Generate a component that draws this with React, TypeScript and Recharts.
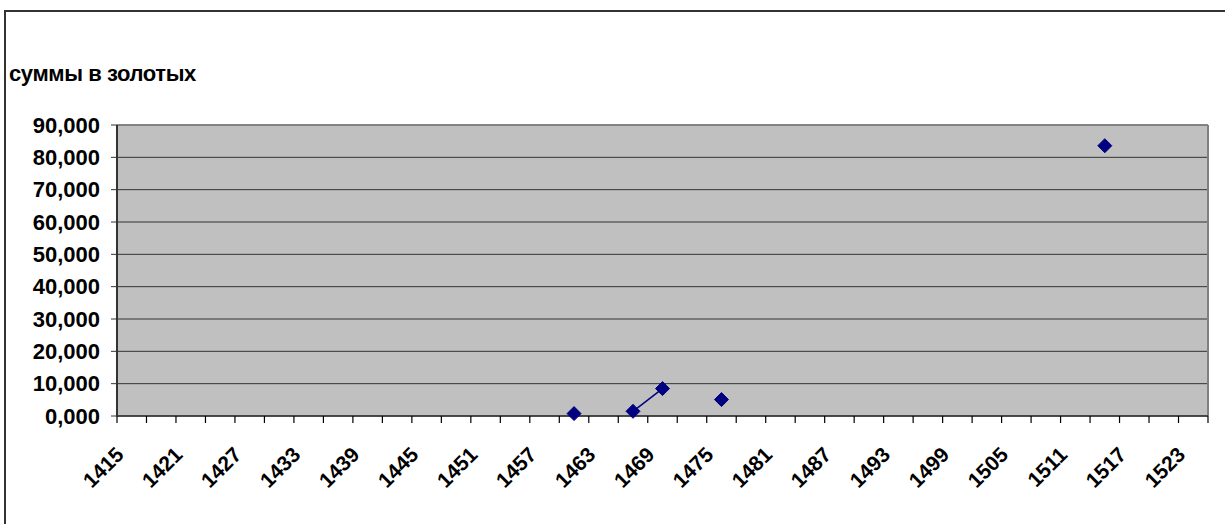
import React from 'react';
import { ComposedChart, Line, XAxis, YAxis, CartesianGrid, ReferenceLine } from 'recharts';

// годы с известными суммами
const years = [1461, 1467, 1470, 1476, 1515];
// суммы в золотых (тыс.)
const sums = [0.74, 1.45, 8.48, 5.08, 83.6];
// пары лет, соединённые линией
const linkedYears = [1467, 1470];

const yTicks = [0, 10, 20, 30, 40, 50, 60, 70, 80, 90];
const xLabels = [
  1415, 1421, 1427, 1433, 1439, 1445, 1451, 1457, 1463, 1469,
  1475, 1481, 1487, 1493, 1499, 1505, 1511, 1517, 1523,
];
const firstYear = 1415;
const lastYear = 1525;

const points = years.map((year, i) => ({ year, value: sums[i] }));
const segment = points.filter((p) => linkedYears.includes(p.year));

// деления оси X каждые 3 категории, на границах
const tickMarks: number[] = [];
for (let v = firstYear - 0.5; v <= lastYear + 0.5; v += 3) tickMarks.push(v);
const xTicks = [...tickMarks, ...xLabels].sort((a, b) => a - b);

const font = 'Arial, "Liberation Sans", sans-serif';

const XTick = ({ x, y, payload }: any) => {
  const v = payload.value;
  if (!Number.isInteger(v)) {
    return <line x1={x} x2={x} y1={y} y2={y + 7} stroke="#000" strokeWidth={1.2} />;
  }
  const tx = x + 3;
  const ty = y + 40;
  return (
    <text
      x={tx}
      y={ty}
      transform={`rotate(-45, ${tx}, ${ty})`}
      textAnchor="end"
      fontFamily={font}
      fontWeight="bold"
      fontSize={21}
      fill="#000"
    >
      {v}
    </text>
  );
};

const Diamond = ({ cx, cy }: any) => {
  if (cx == null || cy == null) return null;
  const r = 7;
  return (
    <polygon
      points={`${cx},${cy - r} ${cx + r},${cy} ${cx},${cy + r} ${cx - r},${cy}`}
      fill="#000080"
      stroke="#000080"
    />
  );
};

export default function App() {
  return (
    <div style={{ position: 'absolute', left: 0, top: 0, width: 1225, height: 524, background: '#fff', overflow: 'hidden' }}>
      <div
        style={{
          position: 'absolute',
          left: 4,
          top: 10,
          width: 1240,
          height: 540,
          borderLeft: '2px solid #333',
          borderTop: '2px solid #333',
        }}
      />
      <div
        style={{
          position: 'absolute',
          left: 9,
          top: 63,
          fontFamily: font,
          fontWeight: 'bold',
          fontSize: 22,
          lineHeight: '22px',
          letterSpacing: -0.4,
          whiteSpace: 'nowrap',
        }}
      >
        суммы в золотых
      </div>
      <div style={{ position: 'absolute', left: 0, top: 0 }}>
        <ComposedChart
          width={1225}
          height={524}
          margin={{ top: 125, right: 17, bottom: 0, left: 0 }}
        >
          <CartesianGrid vertical={false} fill="#C0C0C0" stroke="#333" strokeWidth={1} />
          <XAxis
            dataKey="year"
            type="number"
            domain={[firstYear - 0.5, lastYear + 0.5]}
            ticks={xTicks}
            interval={0}
            height={108}
            tick={<XTick />}
            tickLine={false}
            tickSize={0}
            tickMargin={0}
            axisLine={{ stroke: '#333', strokeWidth: 1.5 }}
            allowDataOverflow
          />
          <YAxis
            type="number"
            domain={[0, 90]}
            ticks={yTicks}
            interval={0}
            width={117}
            tickSize={6}
            tickMargin={11}
            tickLine={{ stroke: '#333' }}
            axisLine={{ stroke: '#333', strokeWidth: 2 }}
            tickFormatter={(v: number) => v.toFixed(3).replace('.', ',')}
            tick={{ fill: '#000', fontFamily: font, fontWeight: 'bold', fontSize: 22 }}
          />
          <ReferenceLine y={90} stroke="#808080" strokeWidth={1.5} ifOverflow="extendDomain" />
          <ReferenceLine x={lastYear + 0.5} stroke="#808080" strokeWidth={2} />
          <Line
            data={segment}
            dataKey="value"
            stroke="#000080"
            strokeWidth={1.5}
            dot={false}
            isAnimationActive={false}
          />
          <Line
            data={points}
            dataKey="value"
            stroke="none"
            dot={<Diamond />}
            activeDot={false}
            isAnimationActive={false}
          />
        </ComposedChart>
      </div>
    </div>
  );
}
